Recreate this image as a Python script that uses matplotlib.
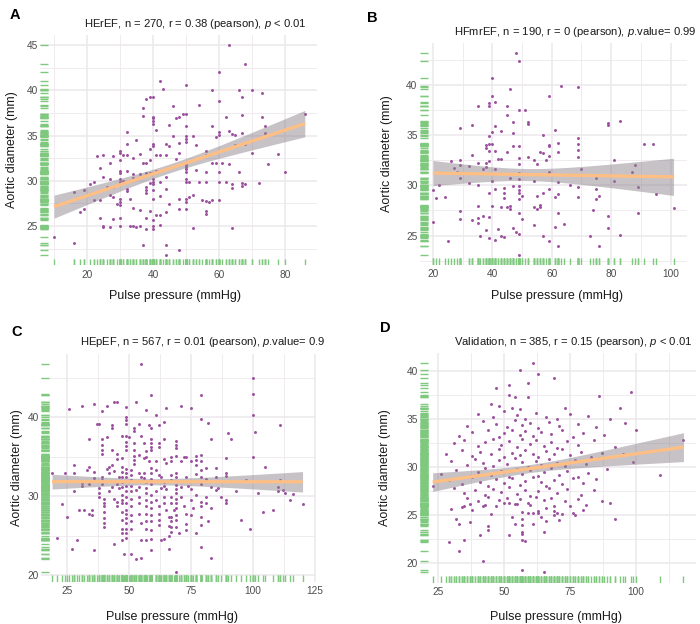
import numpy as np
import matplotlib
matplotlib.use("Agg")
import matplotlib.pyplot as plt
from matplotlib.ticker import FixedLocator, MultipleLocator

# ---------------- data (pulse pressure mmHg, aortic diameter mm) ----------------
A_points = [(63,45.0),(68,42.9),(60,42.0),(42,41.0),(50,40.6),(43,40.1),(58,40.0),(66,40.0),(70,40.0),(73,39.7),(67,39.2),(39,39.3),(40,39.3),(38,39.0),(60,38.8),(46,38.3),(54,38.4),(37,38.0),(49,37.4),(50,37.4),(48,37.1),(47,36.9),(40,37.1),(40,36.9),(40,36.6),(40,36.3),(37,37.2),(62,37.0),(67,37.3),(73,37.0),(86,37.4),(45,36.2),(58,36.1),(50,36.0),(74,36.1),(41,35.6),(60,35.4),(60,35.1),(63,35.5),(64,35.2),(65,35.1),(67,35.3),(74,35.3),(74,35.0),(32,35.4),(46,35.0),(50,35.0),(50,34.6),(50,34.3),(52,34.9),(59,34.8),(35,34.5),(48,34.2),(44,34.1),(53,33.9),(40,34.1),(40,33.8),(45,33.8),(32,34.1),(68,34.1),(65,33.9),(30,33.3),(30,33.1),(39,33.5),(36,33.0),(32,32.9),(23,32.7),(25,32.9),(28,32.7),(41,32.8),(42,32.8),(44,32.9),(48,33.1),(56,33.3),(56,32.9),(70,33.1),(78,33.0),(31,32.8),(34,32.5),(47,32.4),(30,32.3),(27,32.0),(37,32.0),(38,32.0),(39,32.3),(50,32.0),(50,31.7),(50,31.5),(50,31.3),(50,31.0),(58,32.0),(59,32.0),(61,32.0),(63,31.8),(75,31.8),(24,31.4),(30,31.1),(30,30.9),(32,31.1),(34,30.8),(36,30.8),(38,30.9),(39,30.9),(40,30.9),(41,31.1),(44,30.4),(53,31.2),(56,31.0),(60,31.0),(66,31.0),(80,31.0),(25,30.4),(27,30.2),(30,30.2),(30,29.9),(31,30.0),(22,29.9),(21,29.6),(34,30.3),(40,30.2),(40,29.9),(40,29.6),(39,29.8),(42,29.9),(50,30.2),(50,29.9),(51,29.9),(54,29.9),(56,29.9),(60,29.9),(62,29.9),(64,29.6),(64,29.2),(67,29.8),(67,29.4),(68,29.6),(72,29.7),(19,29.0),(26,29.3),(28,29.3),(38,29.3),(38,29.0),(38,28.7),(40,29.0),(44,29.1),(32,29.1),(32,28.9),(16,28.8),(27,28.4),(28,28.2),(52,28.4),(51,28.2),(50,28.0),(22,27.9),(24,27.9),(30,28.0),(33,28.0),(40,28.0),(42,28.3),(48,28.0),(55,27.9),(56,27.8),(57,27.7),(58,27.9),(60,27.9),(30,27.6),(30,27.3),(29,27.4),(50,27.6),(50,26.9),(48,26.9),(45,27.4),(34,27.0),(36,26.8),(39,26.7),(44,26.6),(19,26.9),(18,26.6),(56,26.7),(56,26.3),(41,26.2),(42,26.2),(24,25.9),(28,25.8),(30,25.9),(38,25.9),(40,25.7),(25,25.0),(25,24.9),(27,24.9),(30,25.0),(33,25.0),(34,25.0),(35,24.9),(36,25.0),(38,24.7),(40,24.7),(40,25.0),(42,25.1),(52,24.8),(64,24.8),(10,23.8),(16,23.1),(37,22.9),(44,22.9),(48,22.4),(44,21.8)]

B_points = [(48,43.2),(49,42.4),(40,40.7),(63,39.9),(69,39.8),(59,38.9),(46,39.6),(40,38.9),(41,38.3),(39,38.2),(39,37.9),(35,37.9),(45,37.9),(49,37.5),(51,37.5),(45,37.0),(29,35.7),(33,36.0),(41,35.9),(47,36.3),(52,36.3),(52,36.1),(79,36.2),(79,36.0),(83,36.4),(61,35.5),(40,35.3),(43,35.4),(47,35.2),(39,34.9),(57,35.0),(69,34.7),(39,34.1),(38,34.0),(40,34.1),(47,33.9),(49,33.9),(59,34.0),(59,33.9),(62,34.2),(69,34.1),(91,34.1),(94,34.1),(38,33.7),(39,33.4),(41,33.4),(45,33.3),(56,33.3),(57,33.2),(62,33.3),(69,33.5),(33,33.0),(42,32.6),(43,32.6),(49,32.7),(52,32.8),(59,32.9),(69,32.8),(81,32.5),(26,32.4),(29,32.5),(35,32.2),(38,32.2),(39,32.4),(49,32.1),(54,32.5),(55,32.1),(58,32.5),(27,31.7),(32,31.9),(29,32.0),(37,31.6),(38,31.8),(41,31.6),(70,31.6),(88,32.0),(87,31.3),(28,31.3),(46,30.7),(49,31.2),(49,30.6),(59,31.3),(29,30.7),(40,30.4),(54,30.4),(62,30.3),(75,30.7),(81,30.4),(32,30.2),(22,30.0),(35,30.0),(47,29.9),(49,29.9),(49,29.5),(49,29.2),(44,29.7),(66,30.0),(69,29.8),(89,29.8),(20,29.5),(41,29.6),(39,29.2),(59,29.6),(75,29.6),(44,29.2),(44,28.7),(50,28.9),(49,28.6),(55,28.9),(57,29.2),(62,29.1),(76,28.9),(95,29.1),(21,28.7),(24,28.8),(61,28.8),(69,28.8),(75,28.6),(35,27.9),(40,27.9),(43,27.8),(45,27.8),(46,27.9),(46,27.6),(54,27.8),(55,27.6),(56,28.0),(56,27.8),(74,27.5),(101,27.7),(29,27.4),(49,27.2),(62,27.2),(89,27.2),(37,27.0),(39,26.9),(29,26.7),(33,26.6),(35,26.8),(50,26.7),(79,27.0),(20,26.4),(35,26.3),(54,26.1),(64,26.2),(47,25.8),(61,25.9),(42,25.7),(79,25.8),(38,25.6),(48,25.4),(49,25.2),(36,25.0),(43,25.0),(44,24.9),(39,24.8),(57,25.0),(73,25.0),(83,25.1),(41,24.6),(59,24.5),(25,24.5),(62,24.0),(76,24.0),(49,23.1)]

C_points = [(55,46.8),(100,45.0),(100,43.0),(59,42.8),(79,42.8),(26,41.1),(31,41.5),(36,41.7),(39,40.8),(41,41.5),(44,41.9),(45,42.0),(53,42.0),(49,41.3),(49,40.1),(49,39.7),(49,39.2),(57,40.9),(61,40.3),(65,41.2),(71,41.4),(75,41.2),(79,39.8),(82,39.3),(100,40.3),(111,39.0),(101,38.2),(90,38.0),(91,37.2),(37,39.2),(38,39.2),(43,39.1),(43,38.6),(52,38.7),(52,38.3),(54,39.2),(58,39.1),(59,38.7),(62,39.0),(64,39.4),(34,37.2),(39,37.3),(41,37.5),(39,36.5),(39,35.9),(39,35.3),(50,37.5),(55,37.6),(52,36.7),(56,36.7),(59,37.2),(59,36.7),(59,36.3),(59,35.9),(62,36.7),(62,36.2),(64,37.2),(69,37.0),(69,36.5),(69,36.1),(83,37.2),(47,37.6),(49,37.6),(49,36.9),(49,36.4),(49,35.9),(43,35.9),(45,35.4),(47,34.8),(45,34.7),(52,35.9),(52,35.1),(52,34.6),(52,34.1),(54,35.2),(56,34.8),(57,35.7),(57,35.0),(58,34.5),(61,34.5),(64,34.7),(65,34.2),(67,35.0),(67,34.5),(69,35.1),(71,34.5),(72,35.0),(73,35.0),(75,34.5),(77,35.1),(77,34.6),(77,34.0),(79,35.2),(79,34.5),(89,34.8),(100,35.0),(28,34.0),(34,33.7),(33,33.3),(105,33.7),(42,33.7),(43,34.0),(36,33.1),(41,33.4),(42,32.9),(19,33.0),(24,33.0),(28,33.0),(31,31.7),(34,31.5),(36,32.3),(39,32.5),(39,32.1),(39,31.5),(44,33.2),(46,32.5),(47,33.7),(47,33.1),(47,32.5),(47,31.8),(47,31.2),(49,33.5),(49,32.9),(49,32.4),(49,31.9),(49,31.3),(51,33.3),(51,32.7),(51,32.1),(51,31.3),(54,33.0),(55,32.5),(56,32.9),(56,32.3),(57,31.8),(59,33.6),(59,32.9),(59,32.2),(59,31.5),(61,33.3),(62,32.7),(63,32.4),(64,31.8),(64,31.3),(67,32.7),(67,32.1),(69,33.0),(69,32.4),(69,31.9),(69,31.4),(69,30.9),(69,30.4),(73,32.4),(74,31.3),(77,32.8),(79,33.3),(79,32.4),(81,33.6),(81,32.2),(85,33.6),(85,32.4),(89,33.0),(89,32.6),(97,32.1),(111,32.1),(23,29.0),(25,27.4),(21,24.7),(28,30.6),(30,28.3),(32,28.2),(34,27.7),(35,28.2),(35,27.6),(38,30.4),(38,29.9),(40,29.7),(40,29.2),(40,28.7),(40,28.0),(40,27.2),(40,26.6),(40,26.1),(42,30.6),(44,29.7),(45,29.3),(45,28.8),(47,30.2),(47,29.5),(47,29.1),(47,28.0),(47,27.0),(47,25.9),(47,25.3),(47,24.4),(49,30.7),(49,29.9),(49,29.1),(49,28.3),(49,27.8),(49,27.2),(49,26.6),(49,25.9),(49,25.3),(49,24.7),(51,30.6),(51,29.7),(51,28.7),(51,27.6),(51,26.8),(51,25.8),(51,22.7),(53,30.8),(54,29.9),(54,29.1),(54,27.8),(55,26.6),(55,24.4),(53,22.0),(55,22.1),(57,30.4),(57,29.5),(57,28.7),(57,27.8),(57,26.8),(57,25.9),(59,30.2),(59,29.3),(59,28.5),(59,27.6),(59,26.8),(59,25.7),(59,24.6),(59,23.2),(61,30.6),(61,29.5),(62,28.7),(62,27.8),(62,27.0),(62,26.3),(64,29.9),(64,29.1),(65,28.2),(66,27.4),(66,26.2),(64,24.6),(67,29.9),(67,29.1),(68,28.2),(67,27.4),(67,26.8),(67,26.1),(67,25.5),(69,29.7),(69,29.1),(69,28.5),(69,27.6),(69,27.0),(69,26.1),(70,25.3),(71,29.9),(72,28.7),(73,27.8),(73,26.5),(73,25.7),(75,29.5),(76,28.5),(75,27.6),(77,30.2),(79,29.3),(79,28.7),(79,27.4),(79,26.3),(77,25.3),(81,29.9),(81,29.1),(83,28.5),(82,26.8),(79,23.5),(83,22.1),(85,30.8),(87,29.9),(89,29.5),(89,29.1),(95,27.0),(99,25.8),(104,28.0),(108,28.3),(102,30.4),(110,30.6),(113,30.4),(116,30.3),(115,29.5),(120,29.0),(63,24.5),(66,24.9),(48,22.7),(57,24.4),(66,23.3),(44,23.9),(36,23.2),(29,24.4),(27,23.3),(69,20.4),(31,31.3),(38,31.0),(43,31.2),(45,31.6),(46,31.0),(54,31.2),(57,31.0),(63,31.1),(65,30.9),(71,31.2),(75,30.9),(79,31.6),(83,31.2),(86,31.0),(93,30.6),(110,31.2),(112,30.8)]

D_points = [(61,40.8),(56,40.1),(63,39.7),(69,39.3),(47,38.2),(52,38.5),(59,38.8),(52,37.5),(54,37.3),(59,37.3),(86,37.4),(98,37.8),(45,36.6),(48,36.4),(53,36.1),(56,36.0),(73,36.1),(94,36.1),
            (40,35.5),(46,35.2),(50,35.8),(55,35.4),(58,35.0),(62,35.6),(66,35.2),(70,35.0),(75,35.5),(82,35.3),(90,35.0),
            (36,34.3),(42,34.8),(47,34.5),(51,34.2),(54,34.9),(57,34.4),(60,34.6),(63,34.1),(67,34.7),(71,34.3),(78,34.5),(85,34.2),(96,34.6),
            (33,33.2),(38,33.6),(44,33.8),(48,33.1),(50,33.5),(53,33.9),(56,33.3),(58,33.7),(61,33.2),(64,33.6),(68,33.4),(72,33.8),(76,33.1),(80,33.5),(88,33.3),(100,33.8),
            (31,32.5),(35,32.8),(40,32.2),(43,32.6),(46,32.9),(49,32.3),(52,32.7),(55,32.1),(57,32.9),(60,32.4),(62,32.8),(65,32.2),(68,32.6),(70,32.0),(74,32.7),(78,32.3),(84,32.8),(92,32.1),
            (28,31.4),(34,31.8),(38,31.1),(41,31.6),(45,31.3),(48,31.9),(50,31.0),(53,31.5),(56,31.2),(58,31.8),(61,31.4),(63,31.0),(66,31.7),(69,31.3),(72,31.9),(75,31.2),(79,31.6),(83,31.0),(87,31.5),(95,31.3),
            (30,30.6),(36,30.2),(39,30.8),(42,30.4),(46,30.1),(48,30.7),(51,30.3),(54,30.9),(57,30.5),(59,30.0),(62,30.6),(64,30.2),(67,30.8),(70,30.4),(73,30.1),(77,30.7),(81,30.3),(86,30.9),(99,30.5),
            (26,29.3),(32,29.7),(37,29.1),(40,29.5),(43,29.9),(45,29.2),(49,29.6),(52,29.0),(55,29.8),(57,29.3),(60,29.7),(63,29.1),(65,29.5),(68,29.9),(71,29.2),(74,29.6),(78,29.0),(82,29.4),(89,29.8),
            (29,28.6),(34,28.2),(38,28.9),(41,28.4),(44,28.0),(47,28.7),(50,28.3),(53,28.8),(56,28.1),(58,28.5),(61,28.9),(64,28.4),(66,28.0),(69,28.6),(72,28.2),(76,28.8),(80,28.3),(85,28.7),
            (31,27.8),(35,27.3),(39,27.6),(43,27.1),(46,27.7),(49,27.4),(52,27.9),(55,27.2),(58,27.6),(60,27.0),(63,27.5),(67,27.8),(70,27.3),(74,27.7),(79,27.1),(84,27.6),
            (36,26.8),(40,26.5),(44,26.9),(48,26.6),(51,26.8),(56,26.7),(62,26.9),(65,26.6),(68,26.8),(78,26.7),
            (30,25.6),(34,25.8),(35,25.9),(37,26.1),(38,25.5),(42,25.9),(43,26.0),(45,25.1),(47,25.9),(50,26.2),(52,26.2),(54,26.1),(55,26.1),(53,24.8),(54,24.0),(57,24.6),(57,23.9),(57,25.3),(59,25.2),(61,25.2),(59,26.2),(60,26.0),(57,23.2),(57,23.0),(57,22.4),(58,22.3),(61,24.1),(63,25.4),(63,25.2),(64,24.8),(65,23.2),(66,25.7),(66,24.4),(69,25.9),(69,25.4),(69,25.0),(70,25.2),(71,24.5),(72,25.1),(73,26.4),(75,25.9),(76,25.2),(77,25.0),(80,25.5),(81,26.0),(87,26.4),(90,26.2),(92,24.6),(29,22.2),(32,24.6),(33,21.2),(35,22.4),(33,24.0),(37,24.3),(41,22.9),(42,20.2),(44,23.8),(44,23.4),(52,22.9),(57,19.3),(65,19.0),(23,28.0),(118,32.8),(109,29.2)]

n_total = [270, 190, 567, 385]
titles = ["HErEF, n = 270, r = 0.38 (pearson), $\\it{p}$ < 0.01",
          "HFmrEF, n = 190, r = 0 (pearson), $\\it{p}$.value= 0.99",
          "HEpEF, n = 567, r = 0.01 (pearson), $\\it{p}$.value= 0.9",
          "Validation, n = 385, r = 0.15 (pearson), $\\it{p}$ < 0.01"]
letters = ["A", "B", "C", "D"]
x_label = "Pulse pressure (mmHg)"
y_label = "Aortic diameter (mm)"
x_ticks = [[20, 40, 60, 80], [20, 40, 60, 80, 100], [25, 50, 75, 100, 125], [25, 50, 75, 100]]
y_ticks = [[25, 30, 35, 40, 45], [25, 30, 35, 40], [20, 30, 40], [20, 25, 30, 35, 40]]

# ---------------- style / layout ----------------
plt.rcParams['font.family'] = ['Liberation Sans', 'DejaVu Sans']
plt.rcParams['mathtext.fontset'] = 'custom'
plt.rcParams['mathtext.rm'] = 'Liberation Sans'
plt.rcParams['mathtext.it'] = 'Liberation Sans:italic'

W, H = 700, 624
PURPLE = '#9b4f9e'
GREEN = '#7fc97f'
ORANGE = '#fdbf86'
BAND = '#8f878f'
GRID = '#ece8ec'
TICKC = '#4d4d4d'

# panel boxes in pixels (left, top, right, bottom) and limits
boxes = [(40, 34.5, 317, 265.5), (419.6, 42.8, 686.6, 264.7),
         (40.7, 353.6, 315.7, 582), (420, 352.8, 696, 583)]
xlims = [(5.76, 89.7), (15.5, 105.4), (14.4, 125.3), (18.2, 122.75)]
ylims = [(20.64, 46.16), (22.1, 44.2), (19.11, 48.1), (17.9, 41.9)]
x_minor = [10, 10, 12.5, 12.5]
y_minor = [2.5, 2.5, 5, 2.5]
title_pos = [(195, 24), (575, 32), (203, 342), (573, 342)]
letter_pos = [(15, 15), (372, 17.5), (17, 332), (385, 328)]
xlabel_pos = [(175, 296), (557, 296), (172, 617), (556, 617)]
ylabel_pos = [(12.5, 150), (387, 153.8), (17, 468), (385, 468)]

fig = plt.figure(figsize=(W / 100, H / 100), dpi=100)

all_points = [A_points, B_points, C_points, D_points]
for i, pts in enumerate(all_points):
    l, t, r, b = boxes[i]
    ax = fig.add_axes([l / W, 1 - b / H, (r - l) / W, (b - t) / H])
    x = np.array([p[0] for p in pts], dtype=float)
    y = np.array([p[1] for p in pts], dtype=float)
    ax.set_xlim(*xlims[i])
    ax.set_ylim(*ylims[i])
    ax.xaxis.set_major_locator(FixedLocator(x_ticks[i]))
    ax.yaxis.set_major_locator(FixedLocator(y_ticks[i]))
    ax.xaxis.set_minor_locator(MultipleLocator(x_minor[i]))
    ax.yaxis.set_minor_locator(MultipleLocator(y_minor[i]))
    ax.grid(True, which='major', color=GRID, lw=1.1, zorder=0)
    ax.grid(True, which='minor', color=GRID, lw=0.6, zorder=0)
    ax.set_axisbelow(True)
    for s in ax.spines.values():
        s.set_visible(False)
    ax.tick_params(which='both', length=0, labelsize=7.3, colors=TICKC)
    ax.tick_params(axis='x', pad=3)
    ax.tick_params(axis='y', pad=1.5)

    # rugs
    ax.vlines(x, 0, 0.03, transform=ax.get_xaxis_transform(), color=GREEN, lw=1.0, zorder=2)
    ax.hlines(y, 0, 0.03, transform=ax.get_yaxis_transform(), color=GREEN, lw=1.0, zorder=2)

    ax.scatter(x, y, s=4.5, color=PURPLE, lw=0, zorder=3)

    # linear fit with 95% CI (ggplot-style)
    slope, intercept = np.polyfit(x, y, 1)
    resid = y - (intercept + slope * x)
    sigma = np.sqrt(np.sum(resid ** 2) / (len(x) - 2))
    n = n_total[i]
    xm = x.mean()
    sxx = np.var(x) * n
    xs = np.linspace(x.min(), x.max(), 200)
    fit = intercept + slope * xs
    se = sigma * np.sqrt(1.0 / n + (xs - xm) ** 2 / sxx)
    ax.fill_between(xs, fit - 1.97 * se, fit + 1.97 * se, color=BAND, alpha=0.5, lw=0, zorder=4)
    ax.plot(xs, fit, color=ORANGE, lw=2.4, zorder=5, solid_capstyle='butt')

    tx, ty = title_pos[i]
    fig.text(tx / W, 1 - ty / H, titles[i], ha='center', va='center', fontsize=8.1, color='#1a1a1a')
    lx, ly = letter_pos[i]
    fig.text(lx / W, 1 - ly / H, letters[i], ha='center', va='center', fontsize=10.5,
             fontweight='bold', color='black')
    xx, xy = xlabel_pos[i]
    fig.text(xx / W, 1 - xy / H, x_label, ha='center', va='center', fontsize=9, color='#1a1a1a')
    yx, yy = ylabel_pos[i]
    fig.text(yx / W, 1 - yy / H, y_label, ha='center', va='center', fontsize=9, rotation=90,
             color='#1a1a1a')

fig.savefig("out.png", dpi=100, facecolor='white')
